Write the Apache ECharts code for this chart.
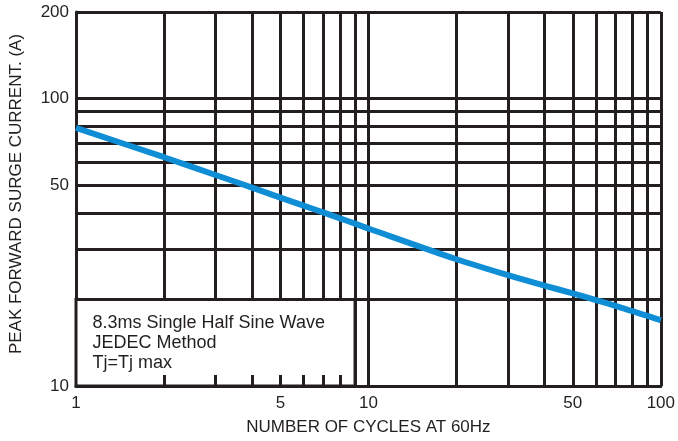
<!DOCTYPE html>
<html>
<head>
<meta charset="utf-8">
<script src="https://cdn.jsdelivr.net/npm/echarts@6/dist/echarts.min.js"></script>
<style>
html,body{margin:0;padding:0;background:#fff;}
#chart{width:678px;height:441px;}
</style>
</head>
<body>
<div id="chart"></div>
<script>
// ---- data ----
var cycles  = [1, 2, 3, 4, 5, 6, 7, 8, 9, 10, 20, 30, 40, 50, 60, 70, 80, 90, 100];
var current = [79, 62.5, 54.2, 49, 45.2, 42.4, 40.2, 38.3, 36.7, 35.3, 27.6, 24.3, 22.35, 21, 19.9, 19, 18.2, 17.55, 16.95];

var xTickLabels = [1, 5, 10, 50, 100];
var yTickLabels = [10, 50, 100, 200];
var xGridValues = [1, 2, 3, 4, 5, 6, 7, 8, 9, 10, 20, 30, 40, 50, 60, 70, 80, 90, 100];
var yGridValues = [10, 20, 30, 40, 50, 60, 70, 80, 90, 100, 200];
var xStubValues = [2, 3, 4, 5, 6, 7, 8];
var noteLines = ['8.3ms Single Half Sine Wave', 'JEDEC Method', 'Tj=Tj max'];

var ink = '#231f20';
var font = 'Liberation Sans, Arial, sans-serif';

var chart = echarts.init(document.getElementById('chart'), null, {renderer: 'canvas'});
chart.setOption({
  backgroundColor: '#ffffff',
  animation: false,
  grid: {left: 75, right: 10, top: 12, bottom: 53, containLabel: false},
  xAxis: [{
    type: 'log', logBase: 10, min: 1, max: 100,
    name: 'NUMBER OF CYCLES AT 60Hz',
    nameLocation: 'middle', nameGap: 33,
    nameTextStyle: {color: ink, fontSize: 17, fontFamily: font},
    axisLine: {show: true, lineStyle: {color: ink, width: 3}},
    axisTick: {show: false, customValues: xGridValues},
    axisLabel: {show: true, customValues: xTickLabels, color: ink, fontSize: 17, fontFamily: font, margin: 9},
    splitLine: {show: true, lineStyle: {color: ink, width: 3}},
    minorSplitLine: {show: false}
  }, {
    type: 'log', logBase: 10, min: 1, max: 100, position: 'bottom', z: 10,
    axisLine: {show: false},
    axisTick: {show: true, inside: true, length: 11, customValues: xStubValues, lineStyle: {color: ink, width: 3}},
    axisLabel: {show: false},
    splitLine: {show: false}
  }],
  yAxis: [{
    type: 'log', logBase: 10, min: 10, max: 200,
    name: 'PEAK FORWARD SURGE CURRENT. (A)',
    nameLocation: 'middle', nameGap: 51, nameRotate: 90,
    nameTextStyle: {color: ink, fontSize: 17, fontFamily: font, padding: [0, 0, 0, 10]},
    axisLine: {show: true, lineStyle: {color: ink, width: 3}},
    axisTick: {show: false, customValues: yGridValues},
    axisLabel: {show: true, customValues: yTickLabels, color: ink, fontSize: 17, fontFamily: font, margin: 7},
    splitLine: {show: true, lineStyle: {color: ink, width: 3}}
  }],
  series: [{
    type: 'line',
    xAxisIndex: 0, yAxisIndex: 0,
    data: cycles.map(function (c, i) { return [c, current[i]]; }),
    smooth: 0.3,
    symbol: 'none',
    lineStyle: {color: '#0f8ed6', width: 6},
    z: 3,
    markArea: {
      silent: true,
      itemStyle: {color: '#ffffff', borderColor: ink, borderWidth: 3},
      label: {
        show: true, position: 'insideTopLeft', distance: 5, offset: [13, 10],
        formatter: noteLines.join('\n'),
        color: ink, fontSize: 18, lineHeight: 20, fontFamily: font
      },
      data: [[{xAxis: 1, yAxis: 10}, {xAxis: 9, yAxis: 20}]]
    }
  }]
});
</script>
</body>
</html>
